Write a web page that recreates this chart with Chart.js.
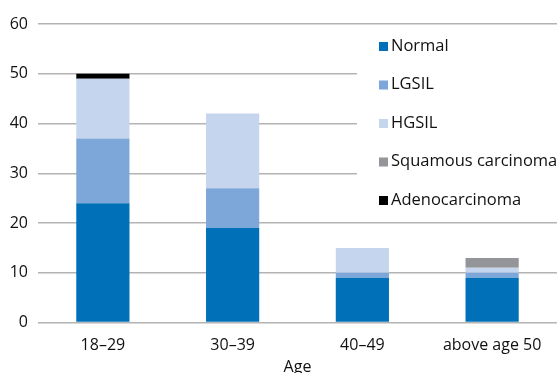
<!DOCTYPE html>
<html>
<head>
<meta charset="utf-8">
<script src="https://cdn.jsdelivr.net/npm/chart.js@4"></script>
<style>
  html, body { margin: 0; padding: 0; background: #fff; }
</style>
</head>
<body>
<canvas id="chart" width="557" height="373"></canvas>
<script>
const ageGroups = ['18–29', '30–39', '40–49', 'above age 50'];
const normal = [24, 19, 9, 9];
const lgsil = [13, 8, 1, 1];
const hgsil = [12, 15, 5, 1];
const squamous = [0, 0, 0, 2];
const adeno = [1, 0, 0, 0];
const yTicks = [0, 10, 20, 30, 40, 50, 60];

const fontFamily = '"Open Sans", "DejaVu Sans", sans-serif';
const textColor = '#111';

// legend drawn inside the plot, on a white box that hides the grid lines behind it
const insideLegend = {
  id: 'insideLegend',
  afterDraw(chart) {
    const c = chart.ctx;
    const area = chart.chartArea;
    c.save();
    c.fillStyle = '#fff';
    c.fillRect(357, 28, area.right - 357, 188);
    c.font = '16.5px ' + fontFamily;
    c.textBaseline = 'middle';
    chart.data.datasets.forEach((ds, i) => {
      const y = 46 + i * 38.5;
      c.fillStyle = ds.backgroundColor;
      c.fillRect(379, y - 4, 9, 9);
      c.fillStyle = textColor;
      c.fillText(ds.label, 391, y);
    });
    c.restore();
  }
};

new Chart(document.getElementById('chart'), {
  type: 'bar',
  data: {
    labels: ageGroups,
    datasets: [
      { label: 'Normal', data: normal, backgroundColor: '#0070b8' },
      { label: 'LGSIL', data: lgsil, backgroundColor: '#7da7d9' },
      { label: 'HGSIL', data: hgsil, backgroundColor: '#c6d5ee' },
      { label: 'Squamous carcinoma', data: squamous, backgroundColor: '#939598' },
      { label: 'Adenocarcinoma', data: adeno, backgroundColor: '#000000' }
    ]
  },
  options: {
    responsive: false,
    animation: false,
    layout: { padding: { top: 24, right: 0, left: 0, bottom: -4 } },
    datasets: { bar: { categoryPercentage: 1, barPercentage: 0.41 } },
    plugins: {
      legend: { display: false },
      tooltip: { enabled: false }
    },
    scales: {
      x: {
        stacked: true,
        grid: { display: false, drawTicks: false },
        border: { display: false },
        ticks: { color: textColor, font: { family: fontFamily, size: 16 }, padding: 13 },
        title: {
          display: true,
          text: 'Age',
          color: textColor,
          font: { family: fontFamily, size: 16 },
          padding: { top: -10, bottom: 0 }
        }
      },
      y: {
        stacked: true,
        min: 0,
        max: 60,
        afterFit: scale => { scale.width = 38; },
        afterBuildTicks: scale => { scale.ticks = yTicks.map(v => ({ value: v })); },
        grid: { color: '#b3b3b3', lineWidth: 1.5, drawTicks: false },
        border: { display: false },
        ticks: { color: textColor, font: { family: fontFamily, size: 16 }, padding: 10 }
      }
    }
  },
  plugins: [insideLegend]
});
</script>
</body>
</html>
